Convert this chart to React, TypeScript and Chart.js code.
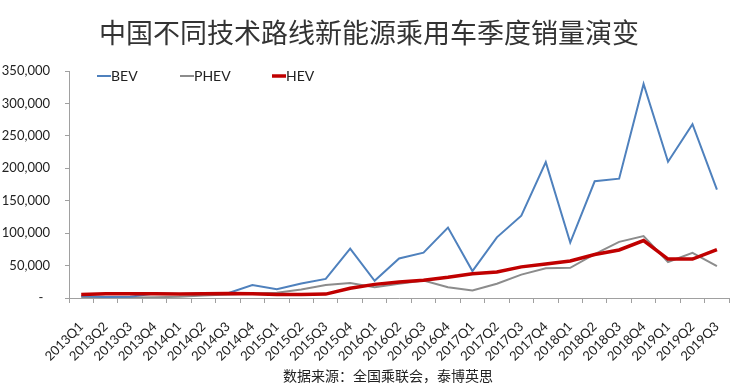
import React, { useEffect, useRef } from "react";
import { Chart, registerables } from "chart.js";

Chart.register(...registerables);

const categories = [
  "2013Q1", "2013Q2", "2013Q3", "2013Q4",
  "2014Q1", "2014Q2", "2014Q3", "2014Q4",
  "2015Q1", "2015Q2", "2015Q3", "2015Q4",
  "2016Q1", "2016Q2", "2016Q3", "2016Q4",
  "2017Q1", "2017Q2", "2017Q3", "2017Q4",
  "2018Q1", "2018Q2", "2018Q3", "2018Q4",
  "2019Q1", "2019Q2", "2019Q3",
];

const bevValues = [
  3000, 1500, 2000, 7000, 6000, 6500, 7500, 20000, 13500, 22500, 29500, 76000,
  26500, 61000, 70000, 108500, 41500, 93500, 127000, 209500, 85500, 180000,
  184000, 330000, 210000, 268000, 167000,
];

const phevValues = [
  1000, 800, 700, 1000, 2000, 4000, 5500, 7000, 8000, 13000, 20000, 23000,
  16500, 22000, 27000, 16500, 11500, 22000, 36000, 46000, 46500, 67500, 86500,
  95500, 55500, 69500, 49000,
];

const hevValues = [
  5500, 6500, 6500, 6500, 6000, 6500, 7000, 6500, 5500, 5500, 6000, 15000,
  21000, 24500, 27500, 32000, 37500, 40000, 48000, 52500, 57000, 67000, 74000,
  88500, 60000, 60000, 74500,
];

const seriesNames = ["BEV", "PHEV", "HEV"];
const seriesColors = ["#4f81bd", "#8c8c8c", "#c00000"];
const seriesWidths = [2, 2, 3.5];

const yMax = 350000;
const yStep = 50000;

const titleText = "中国不同技术路线新能源乘用车季度销量演变";
const sourceText = "数据来源：全国乘联会，泰博英思";

const formatTick = (v: number) => {
  if (v === 0) return "-  ";
  return v.toLocaleString("en-US");
};

export default function App() {
  const canvasRef = useRef<HTMLCanvasElement | null>(null);

  useEffect(() => {
    document.body.style.margin = "0";
    const canvas = canvasRef.current;
    if (!canvas) return;

    const textPlugin = {
      id: "textPlugin",
      afterDraw(chart: any) {
        const ctx = chart.ctx;
        ctx.save();
        // Title
        ctx.fillStyle = "#333333";
        ctx.font = '27px "Noto Sans CJK SC"';
        ctx.textAlign = "center";
        ctx.textBaseline = "middle";
        ctx.fillText(titleText, 369, 33);
        // Source
        ctx.fillStyle = "#222222";
        ctx.font = '14px "Noto Sans CJK SC"';
        ctx.fillText(sourceText, 388, 376);
        // Legend
        const xs = [97, 180, 272];
        const ly = 76;
        ctx.font = '14px Lato';
        ctx.textAlign = "left";
        ctx.textBaseline = "middle";
        seriesNames.forEach((name, i) => {
          ctx.strokeStyle = seriesColors[i];
          ctx.lineWidth = seriesWidths[i];
          ctx.beginPath();
          ctx.moveTo(xs[i], ly);
          ctx.lineTo(xs[i] + 14, ly);
          ctx.stroke();
          ctx.fillStyle = "#222222";
          ctx.fillText(name, xs[i] + 14, ly);
        });
        ctx.restore();
      },
    };

    const values = [bevValues, phevValues, hevValues];
    const orders = [1, 2, 0];

    const chart = new Chart(canvas, {
      type: "line",
      data: {
        labels: categories,
        datasets: seriesNames.map((name, i) => ({
          label: name,
          data: values[i],
          borderColor: seriesColors[i],
          backgroundColor: seriesColors[i],
          borderWidth: seriesWidths[i],
          pointRadius: 0,
          tension: 0,
          fill: false,
          order: orders[i],
        })),
      },
      options: {
        responsive: false,
        animation: false,
        layout: { padding: { top: 71, right: 2, left: 0, bottom: 0 } },
        plugins: {
          legend: { display: false },
          title: { display: false },
          tooltip: { enabled: false },
        },
        scales: {
          x: {
            offset: true,
            grid: {
              display: true,
              offset: true,
              drawOnChartArea: false,
              drawTicks: true,
              tickLength: 5,
              color: "#a0a0a0",
            },
            border: { color: "#a0a0a0" },
            ticks: {
              autoSkip: false,
              maxRotation: 45,
              minRotation: 45,
              padding: 16,
              color: "#222222",
              font: { family: "Lato", size: 13 },
            },
            afterFit(scale: any) {
              scale.height = 94;
            },
          },
          y: {
            min: 0,
            max: yMax,
            grid: {
              display: true,
              drawOnChartArea: false,
              drawTicks: true,
              tickLength: 4,
              color: "#a0a0a0",
            },
            border: { color: "#a0a0a0" },
            ticks: {
              stepSize: yStep,
              padding: 15,
              color: "#222222",
              font: { family: "Lato", size: 13 },
              callback: (v: any) => formatTick(Number(v)),
            },
            afterFit(scale: any) {
              scale.width = 69;
            },
          },
        },
      },
      plugins: [textPlugin],
    });

    return () => chart.destroy();
  }, []);

  return (
    <div style={{ width: 744, height: 392, background: "#ffffff" }}>
      <canvas ref={canvasRef} width={744} height={392} />
    </div>
  );
}
